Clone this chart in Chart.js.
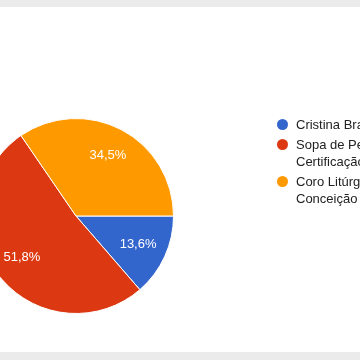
<!DOCTYPE html>
<html>
<head>
<meta charset="utf-8">
<script src="https://cdn.jsdelivr.net/npm/chart.js@4"></script>
<style>
  html, body { margin: 0; padding: 0; width: 360px; height: 360px; overflow: hidden; background: #fff; }
  .band { position: absolute; left: 0; width: 360px; background: #ebebeb; }
  .chart-container { position: absolute; left: -60px; top: 0; width: 480px; height: 360px; }
  #legend { position: absolute; left: 277px; top: 116px; font: 13px Arial, "Liberation Sans", sans-serif; color: #222; white-space: nowrap; }
  .item { position: relative; padding-left: 19px; line-height: 17px; margin-bottom: 3px; }
  .dot { position: absolute; left: 0; top: 3px; width: 11px; height: 11px; border-radius: 50%; }
</style>
</head>
<body>
<div class="band" style="top:0;height:7px"></div>
<div class="band" style="top:352px;height:8px"></div>
<div class="chart-container"><canvas id="pie-chart"></canvas></div>
<div id="legend"></div>
<script>
const labels = [
  ['Cristina Branco'],
  ['Sopa de Pedra -', 'Certificação'],
  ['Coro Litúrgico da', 'Conceição'],
];
const counts = [15, 57, 38];
const colors = ['#3366cc', '#dc3912', '#ff9900'];

const total = counts.reduce((a, b) => a + b, 0);
const pct = (v) => (v / total * 100).toFixed(1).replace('.', ',') + '%';

const sliceLabels = {
  id: 'sliceLabels',
  afterDatasetsDraw(chart) {
    const ctx = chart.ctx;
    ctx.save();
    ctx.font = '13px Arial, "Liberation Sans", sans-serif';
    ctx.fillStyle = '#fff';
    ctx.textAlign = 'center';
    ctx.textBaseline = 'middle';
    chart.getDatasetMeta(0).data.forEach((arc, i) => {
      const a = (arc.startAngle + arc.endAngle) / 2;
      const r = arc.outerRadius * 0.7;
      ctx.fillText(pct(counts[i]), arc.x + Math.cos(a) * r, arc.y + Math.sin(a) * r);
    });
    ctx.restore();
  },
};

new Chart(document.getElementById('pie-chart'), {
  type: 'pie',
  data: {
    labels: labels.map((l) => l.join(' ')),
    datasets: [{
      data: counts,
      backgroundColor: colors,
      borderColor: '#fff',
      borderWidth: 1,
    }],
  },
  options: {
    responsive: true,
    maintainAspectRatio: false,
    animation: false,
    rotation: 90,
    layout: { padding: { left: 38, top: 118, right: 246, bottom: 46 } },
    plugins: {
      legend: { display: false },
      tooltip: { enabled: false },
    },
  },
  plugins: [sliceLabels],
});

const legend = document.getElementById('legend');
labels.forEach((lines, i) => {
  const item = document.createElement('div');
  item.className = 'item';
  item.innerHTML = `<span class="dot" style="background:${colors[i]}"></span>${lines.join('<br>')}`;
  legend.appendChild(item);
});
</script>
</body>
</html>
